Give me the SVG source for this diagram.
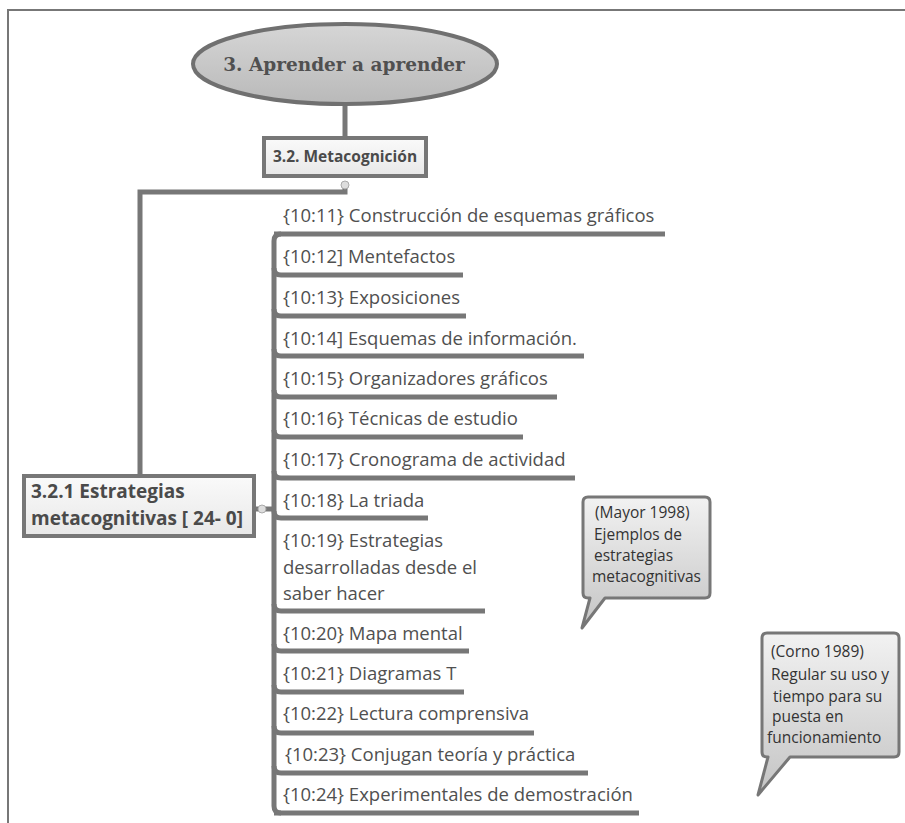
<svg xmlns="http://www.w3.org/2000/svg" width="905" height="823" viewBox="0 0 905 823">
<defs>
<linearGradient id="gEll" x1="0" y1="0" x2="0" y2="1">
<stop offset="0" stop-color="#d6d6d6"/><stop offset="1" stop-color="#b9b9b9"/>
</linearGradient>
<linearGradient id="gBox" x1="0" y1="0" x2="0" y2="1">
<stop offset="0" stop-color="#fafafa"/><stop offset="1" stop-color="#e8e8e8"/>
</linearGradient>
<linearGradient id="gCall" x1="0" y1="0" x2="0" y2="1">
<stop offset="0" stop-color="#f2f2f2"/><stop offset="1" stop-color="#c4c4c4"/>
</linearGradient>
<style>
.frame{stroke:#777;stroke-width:2;fill:none}
.conn{stroke:#777;stroke-width:5;fill:none;stroke-linecap:butt}
.ul{stroke:#777;stroke-width:5;fill:none}
.item{font-family:"Open Sans","Noto Sans",sans-serif;font-size:18.5px;fill:#505050}
.box{fill:url(#gBox);stroke:#777;stroke-width:4}
.boxt{font-family:"Open Sans","Noto Sans",sans-serif;font-weight:bold;fill:#4a4a4a}
.call{fill:url(#gCall);stroke:#777;stroke-width:3;stroke-linejoin:round}
.callt{font-family:"Open Sans","Noto Sans",sans-serif;font-size:15.5px;fill:#333}
.knob{fill:#ddd;stroke:#aaa;stroke-width:1}
</style>
</defs>
<rect width="905" height="823" fill="#fff"/>
<path class="frame" d="M8 823 V10 H905"/>

<g id="connectors">
<line class="conn" x1="345" y1="104" x2="345" y2="138"/>
<path class="conn" d="M345 185 V192 H140 V476"/>
<line class="conn" x1="256" y1="509" x2="274" y2="509"/>
<path class="conn" d="M281 234 Q274 234 274 241 V806 Q274 813 281 813"/>
<g class="ul">
<path d="M274 234 H665"/>
<path d="M274 268 Q274 275 281 275 H463"/>
<path d="M274 309 Q274 316 281 316 H466"/>
<path d="M274 349 Q274 356 281 356 H584"/>
<path d="M274 390 Q274 397 281 397 H557"/>
<path d="M274 430 Q274 437 281 437 H523"/>
<path d="M274 471 Q274 478 281 478 H575"/>
<path d="M274 511 Q274 518 281 518 H428"/>
<path d="M274 604 Q274 611 281 611 H485"/>
<path d="M274 644 Q274 651 281 651 H469"/>
<path d="M274 685 Q274 692 281 692 H464"/>
<path d="M274 726 Q274 733 281 733 H534"/>
<path d="M274 766 Q274 773 281 773 H588"/>
<path d="M274 813 H639"/>
</g>
</g>

<g id="root">
<ellipse cx="345" cy="64" rx="152" ry="40" fill="url(#gEll)" stroke="#707070" stroke-width="4"/>
<text x="344" y="71" text-anchor="middle" font-family="'DejaVu Serif','Liberation Serif',serif" font-weight="bold" font-size="18.5" fill="#505050">3. Aprender a aprender</text>
</g>

<g id="metacognicion">
<rect class="box" x="264" y="138" width="162" height="38"/>
<text class="boxt" x="345" y="162" text-anchor="middle" font-size="15.5">3.2. Metacognición</text>
<circle class="knob" cx="345" cy="185" r="4"/>
</g>

<g id="estrategias">
<rect class="box" x="24" y="476" width="230" height="60"/>
<text class="boxt" x="31" y="498" font-size="19">3.2.1 Estrategias</text>
<text class="boxt" x="31" y="525" font-size="19">metacognitivas [ 24- 0]</text>
<circle class="knob" cx="262" cy="509" r="4"/>
</g>

<g id="items">
<text class="item" x="283" y="222">{10:11} Construcción de esquemas gráficos</text>
<text class="item" x="283" y="263">{10:12] Mentefactos</text>
<text class="item" x="283" y="304">{10:13} Exposiciones</text>
<text class="item" x="283" y="345">{10:14] Esquemas de información.</text>
<text class="item" x="283" y="385">{10:15} Organizadores gráficos</text>
<text class="item" x="283" y="425">{10:16} Técnicas de estudio</text>
<text class="item" x="283" y="466">{10:17} Cronograma de actividad</text>
<text class="item" x="283" y="507">{10:18} La triada</text>
<text class="item" x="283" y="547">{10:19} Estrategias</text>
<text class="item" x="283" y="574">desarrolladas desde el</text>
<text class="item" x="283" y="600">saber hacer</text>
<text class="item" x="283" y="640">{10:20} Mapa mental</text>
<text class="item" x="283" y="680">{10:21} Diagramas T</text>
<text class="item" x="283" y="720">{10:22} Lectura comprensiva</text>
<text class="item" x="285" y="761">{10:23} Conjugan teoría y práctica</text>
<text class="item" x="283" y="801">{10:24} Experimentales de demostración</text>
</g>

<g id="callout-mayor">
<path class="call" d="M588 497 H705 Q710 497 710 502 V593 Q710 598 705 598 H605 L582 628 L590 598 H588 Q583 598 583 593 V502 Q583 497 588 497 Z"/>
<text class="callt" x="595" y="518">(Mayor 1998)</text>
<text class="callt" x="594" y="540">Ejemplos de</text>
<text class="callt" x="594" y="561">estrategias</text>
<text class="callt" x="592" y="582">metacognitivas</text>
</g>

<g id="callout-corno">
<path class="call" d="M767 633 H894 Q899 633 899 638 V752 Q899 757 894 757 H790 L758 795 L768 757 H767 Q762 757 762 752 V638 Q762 633 767 633 Z"/>
<text class="callt" x="771" y="657">(Corno 1989)</text>
<text class="callt" x="771" y="680">Regular su uso y</text>
<text class="callt" x="773" y="702">tiempo para su</text>
<text class="callt" x="772" y="722">puesta en</text>
<text class="callt" x="767" y="743">funcionamiento</text>
</g>
</svg>
